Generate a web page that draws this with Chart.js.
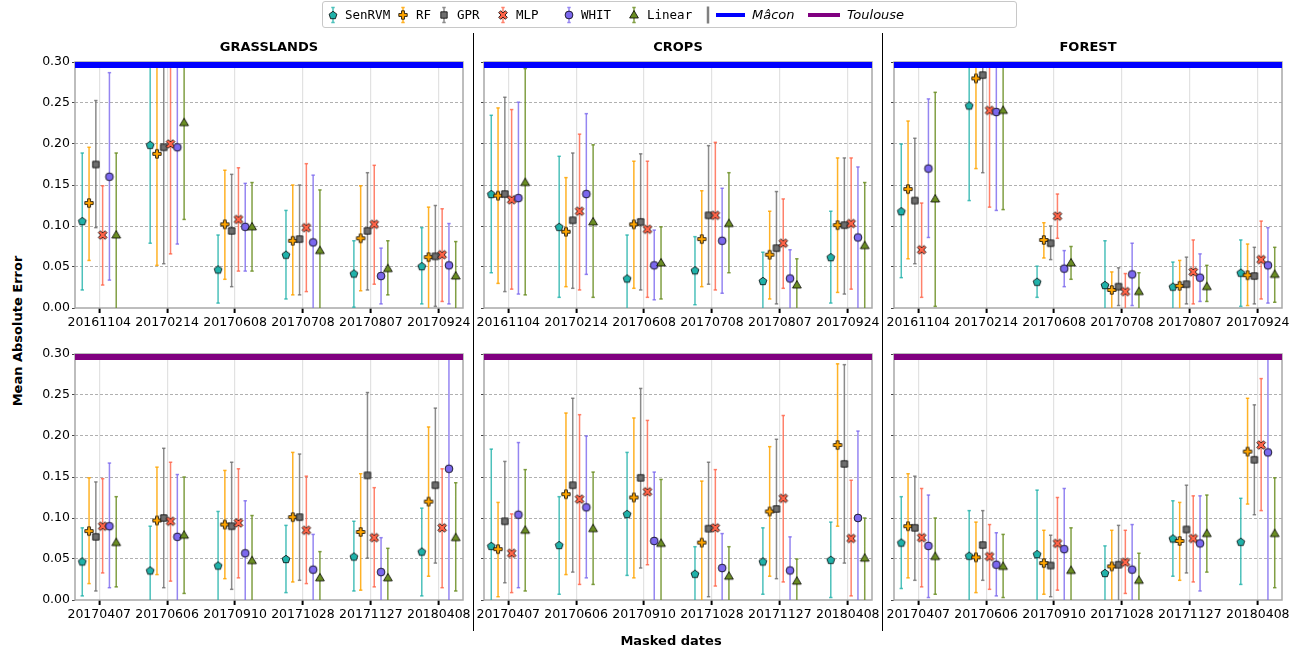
<!DOCTYPE html>
<html><head><meta charset="utf-8">
<script src="https://cdn.jsdelivr.net/npm/chart.js@4/dist/chart.umd.min.js"></script>
<style>
html,body{margin:0;padding:0;background:#fff;}
body{width:1303px;height:653px;overflow:hidden;position:relative;font-family:"DejaVu Sans",sans-serif;color:#000;}
canvas.panel{position:absolute;}
.title{position:absolute;font-weight:bold;font-size:13px;transform:translateX(-50%);white-space:nowrap;}
.sep{position:absolute;width:1.5px;background:#000;}
.ylab{position:absolute;font-weight:bold;font-size:13px;white-space:nowrap;transform:translate(-50%,-50%) rotate(-90deg);}
.xlab{position:absolute;font-weight:bold;font-size:13px;white-space:nowrap;transform:translate(-50%,-50%);}
#legend{position:absolute;left:322px;top:1px;width:695px;height:27px;border:1px solid #c8c8c8;border-radius:3px;box-sizing:border-box;background:#fff;}
.li{position:absolute;top:0;height:25px;line-height:25px;font-family:"DejaVu Sans Mono",monospace;font-size:12.5px;white-space:nowrap;}
.li.it{font-family:"DejaVu Sans",sans-serif;font-style:italic;font-size:13px;}
.lic{position:absolute;top:0;}
</style>
</head><body>
<div id="legend"></div>
<script>
// ---------------- DATA ----------------
const SERIES = ['SenRVM', 'RF', 'GPR', 'MLP', 'WHIT', 'Linear'];
const MACON_DATES = ['20161104', '20170214', '20170608', '20170708', '20170807', '20170924'];
const TOULOUSE_DATES = ['20170407', '20170606', '20170910', '20171028', '20171127', '20180408'];
const Y_TICKS = [0, 0.05, 0.10, 0.15, 0.20, 0.25, 0.30];
const PANEL_TITLES = ['GRASSLANDS', 'CROPS', 'FOREST'];
const SITES = ['Mâcon', 'Toulouse'];

// rows: SenRVM, RF, GPR, MLP, WHIT, Linear ; columns: dates
const GRASS_MACON_MAE = [
  [0.106, 0.199, 0.047, 0.065, 0.042, 0.051],
  [0.128, 0.188, 0.102, 0.082, 0.085, 0.062],
  [0.175, 0.196, 0.094, 0.084, 0.094, 0.063],
  [0.089, 0.200, 0.108, 0.098, 0.102, 0.065],
  [0.160, 0.196, 0.099, 0.080, 0.039, 0.052],
  [0.089, 0.226, 0.099, 0.070, 0.048, 0.039]];
const GRASS_MACON_LO = [
  [0.022, 0.079, 0.006, 0.011, 0.001, 0.005],
  [0.058, 0.052, 0.035, 0.016, 0.021, -0.01],
  [0.098, 0.054, 0.026, 0.016, 0.022, 0.002],
  [0.028, 0.066, 0.045, 0.020, 0.029, 0.008],
  [0.034, 0.078, 0.045, -0.01, 0.005, 0.005],
  [-0.01, 0.108, 0.045, -0.01, 0.016, -0.01]];
const GRASS_MACON_HI = [
  [0.189, 0.32, 0.089, 0.119, 0.082, 0.098],
  [0.196, 0.32, 0.168, 0.150, 0.149, 0.123],
  [0.253, 0.32, 0.163, 0.150, 0.165, 0.125],
  [0.149, 0.32, 0.171, 0.176, 0.174, 0.121],
  [0.287, 0.32, 0.152, 0.162, 0.073, 0.103],
  [0.189, 0.32, 0.153, 0.144, 0.082, 0.081]];

const CROPS_MACON_MAE = [
  [0.139, 0.099, 0.036, 0.046, 0.033, 0.062],
  [0.137, 0.093, 0.102, 0.084, 0.065, 0.101],
  [0.139, 0.107, 0.105, 0.113, 0.073, 0.101],
  [0.132, 0.118, 0.096, 0.113, 0.079, 0.103],
  [0.134, 0.139, 0.052, 0.082, 0.036, 0.086],
  [0.153, 0.105, 0.055, 0.103, 0.028, 0.076]];
const CROPS_MACON_LO = [
  [0.043, 0.013, -0.01, 0.004, -0.01, 0.006],
  [0.030, 0.026, 0.024, 0.026, 0.011, 0.019],
  [0.020, 0.024, 0.022, 0.029, 0.005, 0.017],
  [0.023, 0.022, 0.013, 0.022, 0.024, 0.023],
  [0.017, 0.041, 0.010, 0.018, -0.01, -0.01],
  [0.016, 0.013, 0.011, 0.043, -0.01, -0.01]];
const CROPS_MACON_HI = [
  [0.235, 0.185, 0.089, 0.087, 0.068, 0.118],
  [0.244, 0.159, 0.179, 0.143, 0.118, 0.183],
  [0.257, 0.189, 0.188, 0.198, 0.142, 0.183],
  [0.242, 0.212, 0.179, 0.202, 0.133, 0.183],
  [0.251, 0.237, 0.095, 0.146, 0.071, 0.172],
  [0.292, 0.199, 0.099, 0.165, 0.060, 0.153]];

const FOREST_MACON_MAE = [
  [0.118, 0.247, 0.032, 0.028, 0.026, 0.043],
  [0.145, 0.280, 0.083, 0.022, 0.027, 0.040],
  [0.131, 0.284, 0.079, 0.026, 0.029, 0.039],
  [0.071, 0.241, 0.112, 0.020, 0.044, 0.059],
  [0.170, 0.239, 0.048, 0.041, 0.037, 0.052],
  [0.133, 0.241, 0.055, 0.020, 0.026, 0.041]];
const FOREST_MACON_LO = [
  [0.037, 0.131, 0.013, -0.01, -0.01, 0.002],
  [0.060, 0.170, 0.061, -0.01, -0.01, 0.003],
  [0.054, 0.165, 0.059, 0.003, 0.005, 0.005],
  [0.013, 0.123, 0.085, -0.01, 0.005, 0.011],
  [0.086, 0.119, 0.026, 0.003, 0.008, 0.006],
  [0.002, 0.120, 0.035, -0.01, 0.008, 0.007]];
const FOREST_MACON_HI = [
  [0.200, 0.32, 0.051, 0.082, 0.056, 0.083],
  [0.228, 0.32, 0.104, 0.044, 0.058, 0.078],
  [0.207, 0.32, 0.100, 0.049, 0.062, 0.074],
  [0.128, 0.32, 0.139, 0.042, 0.083, 0.106],
  [0.255, 0.32, 0.070, 0.079, 0.066, 0.098],
  [0.263, 0.32, 0.075, 0.043, 0.052, 0.074]];

const GRASS_TOULOUSE_MAE = [
  [0.047, 0.036, 0.042, 0.050, 0.053, 0.059],
  [0.084, 0.097, 0.092, 0.101, 0.083, 0.120],
  [0.077, 0.100, 0.090, 0.101, 0.152, 0.140],
  [0.090, 0.096, 0.094, 0.085, 0.076, 0.088],
  [0.090, 0.077, 0.057, 0.037, 0.034, 0.160],
  [0.070, 0.079, 0.048, 0.027, 0.027, 0.076]];
const GRASS_TOULOUSE_LO = [
  [0.005, -0.01, -0.01, 0.009, 0.011, 0.005],
  [0.020, 0.031, 0.026, 0.022, 0.012, 0.029],
  [0.011, 0.015, 0.013, 0.024, 0.051, 0.045],
  [0.033, 0.023, 0.027, 0.020, 0.016, 0.015],
  [0.015, -0.01, -0.01, -0.01, -0.01, -0.01],
  [0.016, 0.008, -0.01, -0.01, -0.01, 0.011]];
const GRASS_TOULOUSE_HI = [
  [0.088, 0.090, 0.108, 0.091, 0.096, 0.112],
  [0.149, 0.162, 0.158, 0.180, 0.154, 0.211],
  [0.144, 0.185, 0.168, 0.178, 0.253, 0.234],
  [0.148, 0.168, 0.160, 0.151, 0.137, 0.160],
  [0.167, 0.153, 0.121, 0.080, 0.076, 0.32],
  [0.126, 0.150, 0.103, 0.059, 0.063, 0.143]];

const CROPS_TOULOUSE_MAE = [
  [0.066, 0.067, 0.105, 0.032, 0.047, 0.049],
  [0.062, 0.129, 0.125, 0.070, 0.108, 0.189],
  [0.096, 0.140, 0.149, 0.087, 0.111, 0.166],
  [0.057, 0.123, 0.132, 0.088, 0.124, 0.075],
  [0.104, 0.113, 0.072, 0.039, 0.036, 0.100],
  [0.085, 0.087, 0.069, 0.029, 0.023, 0.051]];
const CROPS_TOULOUSE_LO = [
  [-0.01, 0.007, 0.030, -0.01, 0.007, 0.003],
  [0.004, 0.031, 0.027, -0.01, 0.029, 0.090],
  [0.021, 0.034, 0.039, 0.004, 0.026, 0.045],
  [0.009, 0.019, 0.043, 0.017, 0.022, 0.005],
  [0.015, 0.027, -0.01, -0.01, -0.01, -0.01],
  [0.011, 0.019, -0.01, -0.01, -0.01, -0.01]];
const CROPS_TOULOUSE_HI = [
  [0.184, 0.126, 0.180, 0.065, 0.088, 0.095],
  [0.119, 0.228, 0.222, 0.145, 0.187, 0.288],
  [0.169, 0.246, 0.258, 0.168, 0.196, 0.287],
  [0.105, 0.226, 0.219, 0.159, 0.225, 0.146],
  [0.192, 0.200, 0.156, 0.081, 0.077, 0.206],
  [0.159, 0.156, 0.147, 0.065, 0.050, 0.100]];

const FOREST_TOULOUSE_MAE = [
  [0.070, 0.054, 0.056, 0.033, 0.075, 0.071],
  [0.090, 0.052, 0.045, 0.041, 0.072, 0.181],
  [0.088, 0.067, 0.042, 0.043, 0.086, 0.171],
  [0.076, 0.053, 0.069, 0.046, 0.075, 0.189],
  [0.066, 0.043, 0.062, 0.037, 0.069, 0.180],
  [0.053, 0.041, 0.036, 0.024, 0.081, 0.081]];
const FOREST_TOULOUSE_LO = [
  [0.014, -0.01, -0.01, -0.01, 0.029, 0.019],
  [0.027, 0.009, 0.007, -0.01, 0.024, 0.117],
  [0.024, 0.024, 0.004, -0.01, 0.033, 0.104],
  [0.016, 0.013, 0.012, 0.008, 0.022, 0.109],
  [0.003, 0.005, -0.01, -0.01, 0.011, -0.01],
  [0.007, 0.003, -0.01, -0.01, 0.034, 0.015]];
const FOREST_TOULOUSE_HI = [
  [0.126, 0.109, 0.134, 0.066, 0.121, 0.124],
  [0.154, 0.095, 0.085, 0.085, 0.119, 0.246],
  [0.151, 0.109, 0.079, 0.091, 0.140, 0.238],
  [0.136, 0.092, 0.125, 0.085, 0.127, 0.270],
  [0.128, 0.082, 0.136, 0.092, 0.127, 0.32],
  [0.100, 0.080, 0.088, 0.057, 0.128, 0.149]];

// ---------------- STYLES ----------------
const MARKER_KIND = ['pentagon', 'plus', 'square', 'x', 'circle', 'triangle'];
const MARKER_FILL = ['#20b2aa', '#ffa500', '#6e6e6e', '#ff6347', '#7b68ee', '#6b8e23'];
const ERR_COLOR = ['rgba(32,178,170,0.8)', 'rgba(255,165,0,0.85)', 'rgba(110,110,110,0.8)',
                   'rgba(255,99,71,0.8)', 'rgba(123,104,238,0.8)', 'rgba(107,142,35,0.85)'];
const X_OFFSETS = [-0.25, -0.15, -0.05, 0.05, 0.15, 0.25];
const SITE_COLOR = ['#0000ff', '#800080'];
const X_MIN = -0.357, X_MAX = 5.357;
const BAND_Y = 0.2963;
const PLOT_W = 388, PLOT_H = 246;
const PLOT_LEFTS = [75, 484, 894];
const PLOT_TOPS = [62, 354];
const M_L = 45, M_T = 12, M_R = 12, M_B = 28;

function makeMarker(kind, fill, size) {
  const c = document.createElement('canvas');
  c.width = size; c.height = size;
  const g = c.getContext('2d');
  g.translate(size / 2, size / 2);
  g.beginPath();
  const polyPlus = (t, a) => [[-t,-a],[t,-a],[t,-t],[a,-t],[a,t],[t,t],[t,a],[-t,a],[-t,t],[-a,t],[-a,-t],[-t,-t]];
  if (kind === 'pentagon') {
    const r = 4.1;
    for (let k = 0; k < 5; k++) {
      const an = -Math.PI / 2 + k * 2 * Math.PI / 5;
      const px = r * Math.cos(an), py = r * Math.sin(an) + 0.4;
      k ? g.lineTo(px, py) : g.moveTo(px, py);
    }
  } else if (kind === 'plus') {
    polyPlus(1.45, 4.2).forEach((p, k) => k ? g.lineTo(p[0], p[1]) : g.moveTo(p[0], p[1]));
  } else if (kind === 'x') {
    const cs = Math.SQRT1_2;
    polyPlus(1.45, 4.7).forEach((p, k) => {
      const px = (p[0] - p[1]) * cs, py = (p[0] + p[1]) * cs;
      k ? g.lineTo(px, py) : g.moveTo(px, py);
    });
  } else if (kind === 'square') {
    g.rect(-3.2, -3.2, 6.4, 6.4);
  } else if (kind === 'circle') {
    g.arc(0, 0, 3.9, 0, Math.PI * 2);
  } else if (kind === 'triangle') {
    g.moveTo(0, -4.5); g.lineTo(4.4, 3.0); g.lineTo(-4.4, 3.0);
  }
  g.closePath();
  g.fillStyle = fill; g.fill();
  g.lineWidth = 0.8; g.strokeStyle = '#000'; g.stroke();
  return c;
}
const MARKERS = MARKER_KIND.map((k, s) => makeMarker(k, MARKER_FILL[s], 14));

const framePlugin = {
  id: 'frame',
  beforeDatasetsDraw(chart) {
    const a = chart.chartArea, ctx = chart.ctx;
    ctx.save();
    ctx.strokeStyle = '#a8a8a8'; ctx.lineWidth = 1.5;
    ctx.strokeRect(a.left, a.top, a.right - a.left, a.bottom - a.top);
    ctx.restore();
  }
};

function makePanel(col, row, dates, mae, lo, hi) {
  const canvas = document.createElement('canvas');
  canvas.className = 'panel';
  const W = M_L + PLOT_W + M_R, H = M_T + PLOT_H + M_B;
  canvas.width = W; canvas.height = H;
  canvas.style.width = W + 'px'; canvas.style.height = H + 'px';
  canvas.style.left = (PLOT_LEFTS[col] - M_L) + 'px';
  canvas.style.top = (PLOT_TOPS[row] - M_T) + 'px';
  document.body.appendChild(canvas);

  const datasets = [];
  SERIES.forEach((name, s) => {
    const pts = [];
    dates.forEach((d, i) => {
      const x = i + X_OFFSETS[s];
      pts.push({ x: x, y: lo[s][i] }, { x: x, y: hi[s][i] }, { x: x, y: null });
    });
    datasets.push({
      label: name + ' err', data: pts, showLine: true, spanGaps: false,
      borderColor: ERR_COLOR[s], borderWidth: 1.5,
      pointStyle: 'line', pointRadius: 1.7, pointBorderWidth: 1.5,
      pointBorderColor: ERR_COLOR[s], pointBackgroundColor: ERR_COLOR[s],
      clip: 0, order: 2
    });
  });
  SERIES.forEach((name, s) => {
    datasets.push({
      label: name, data: dates.map((d, i) => ({ x: i + X_OFFSETS[s], y: mae[s][i] })),
      showLine: false, pointStyle: MARKERS[s], pointRadius: 4,
      order: 1 + (5 - s) * 0.01
    });
  });
  datasets.push({
    label: SITES[row], data: [{ x: X_MIN, y: BAND_Y }, { x: X_MAX, y: BAND_Y }],
    showLine: true, borderColor: SITE_COLOR[row], backgroundColor: SITE_COLOR[row],
    borderWidth: 6, pointRadius: 0, clip: 0, order: 0
  });

  const tickFont = { family: 'DejaVu Sans', size: 12.5 };
  new Chart(canvas, {
    type: 'scatter',
    data: { datasets },
    options: {
      responsive: false, animation: false, devicePixelRatio: 1, events: [],
      layout: { padding: { left: 0, right: M_R, top: M_T, bottom: 0 } },
      plugins: { legend: { display: false }, tooltip: { enabled: false }, title: { display: false } },
      scales: {
        x: {
          type: 'linear', min: X_MIN, max: X_MAX,
          afterBuildTicks: sc => { sc.ticks = dates.map((d, i) => ({ value: i })); },
          afterFit: sc => { sc.height = M_B; },
          ticks: { callback: v => dates[Math.round(v)], autoSkip: false, maxRotation: 0, minRotation: 0,
                   font: tickFont, color: '#000', padding: 2 },
          grid: { color: '#e2e2e2', lineWidth: 1.2, tickColor: '#000', tickWidth: 2, tickLength: 5, drawTicks: true },
          border: { display: false }
        },
        y: {
          type: 'linear', min: 0, max: 0.30,
          afterBuildTicks: sc => { sc.ticks = Y_TICKS.map(v => ({ value: v })); },
          afterFit: sc => { sc.width = M_L; },
          ticks: { display: col === 0, callback: v => Number(v).toFixed(2), font: tickFont, color: '#000', padding: 2 },
          grid: {
            color: c => (c.tick && (c.tick.value < 0.001 || c.tick.value > 0.299)) ? 'rgba(0,0,0,0)' : '#b0b0b0',
            lineWidth: 1, tickColor: '#444', tickLength: 3, tickWidth: 1, borderDash: [3, 2]
          },
          border: { display: false, dash: [3, 2] }
        }
      }
    },
    plugins: [framePlugin]
  });
}

const PANEL_DATA = [
  [MACON_DATES, GRASS_MACON_MAE, GRASS_MACON_LO, GRASS_MACON_HI],
  [MACON_DATES, CROPS_MACON_MAE, CROPS_MACON_LO, CROPS_MACON_HI],
  [MACON_DATES, FOREST_MACON_MAE, FOREST_MACON_LO, FOREST_MACON_HI],
  [TOULOUSE_DATES, GRASS_TOULOUSE_MAE, GRASS_TOULOUSE_LO, GRASS_TOULOUSE_HI],
  [TOULOUSE_DATES, CROPS_TOULOUSE_MAE, CROPS_TOULOUSE_LO, CROPS_TOULOUSE_HI],
  [TOULOUSE_DATES, FOREST_TOULOUSE_MAE, FOREST_TOULOUSE_LO, FOREST_TOULOUSE_HI]
];
PANEL_DATA.forEach((p, k) => makePanel(k % 3, Math.floor(k / 3), p[0], p[1], p[2], p[3]));

// ---------------- TEXT / DECOR ----------------
function addDiv(cls, text, css) {
  const d = document.createElement('div');
  d.className = cls; if (text) d.textContent = text;
  Object.assign(d.style, css);
  document.body.appendChild(d);
  return d;
}
PANEL_TITLES.forEach((t, c) => addDiv('title', t, { left: (PLOT_LEFTS[c] + PLOT_W / 2) + 'px', top: '39px' }));
addDiv('sep', '', { left: '472.5px', top: '33px', height: '598px' });
addDiv('sep', '', { left: '881.5px', top: '33px', height: '598px' });
addDiv('ylab', 'Mean Absolute Error', { left: '17px', top: '331px' });
addDiv('xlab', 'Masked dates', { left: '671px', top: '640px' });

// ---------------- LEGEND ----------------
const legend = document.getElementById('legend');
function legendIcon(cx, drawFn) {
  const c = document.createElement('canvas');
  c.width = 30; c.height = 25; c.className = 'lic';
  c.style.left = (cx - 15 - 323) + 'px';
  legend.appendChild(c);
  drawFn(c.getContext('2d'));
}
const LEG_ICON_X = [333, 403, 444, 503, 569, 634];
const LEG_TEXT_X = [345, 416, 457, 516, 581, 647];
SERIES.forEach((name, s) => {
  legendIcon(LEG_ICON_X[s], g => {
    g.strokeStyle = ERR_COLOR[s]; g.lineWidth = 1.5;
    g.beginPath(); g.moveTo(15, 5.5); g.lineTo(15, 20.5);
    g.moveTo(13.3, 5.5); g.lineTo(16.7, 5.5); g.moveTo(13.3, 20.5); g.lineTo(16.7, 20.5); g.stroke();
    g.drawImage(MARKERS[s], 15 - 7, 13 - 7);
  });
  const t = document.createElement('div');
  t.className = 'li'; t.textContent = name; t.style.left = (LEG_TEXT_X[s] - 323) + 'px';
  legend.appendChild(t);
});
legendIcon(708, g => {
  g.strokeStyle = '#808080'; g.lineWidth = 2.5;
  g.beginPath(); g.moveTo(15, 4.5); g.lineTo(15, 21.5); g.stroke();
});
const SITE_LINE = [[716, 745, 752], [808, 840, 847]];
SITES.forEach((site, r) => {
  const ln = document.createElement('div');
  Object.assign(ln.style, { position: 'absolute', left: (SITE_LINE[r][0] - 323) + 'px', top: '11px',
    width: (SITE_LINE[r][1] - SITE_LINE[r][0]) + 'px', height: '4px', background: SITE_COLOR[r] });
  legend.appendChild(ln);
  const t = document.createElement('div');
  t.className = 'li it'; t.textContent = site; t.style.left = (SITE_LINE[r][2] - 323) + 'px';
  legend.appendChild(t);
});
</script>
</body></html>
